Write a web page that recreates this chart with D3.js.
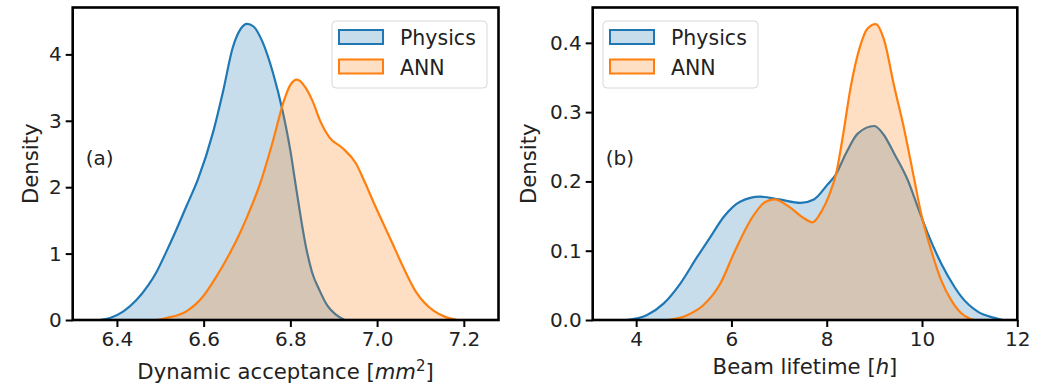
<!DOCTYPE html>
<html>
<head>
<meta charset="utf-8">
<script src="https://cdn.jsdelivr.net/npm/d3@7"></script>
<style>
  body { margin: 0; background: #fff; }
  text { font-family: "DejaVu Sans", sans-serif; fill: #222; }
</style>
</head>
<body>
<div id="visualisation"></div>
<script>
// KDE curves: [x, density]
var physicsA = [[6.36,0],[6.384,0.03],[6.415,0.13],[6.445,0.3],[6.472,0.52],[6.491,0.72],[6.514,1.03],[6.537,1.36],[6.56,1.71],[6.587,2.12],[6.621,2.81],[6.645,3.45],[6.667,4.1],[6.685,4.38],[6.70,4.46],[6.715,4.42],[6.735,4.2],[6.76,3.72],[6.782,3.15],[6.8,2.55],[6.813,2.0],[6.836,1.1],[6.85,0.72],[6.867,0.45],[6.885,0.22],[6.905,0.08],[6.925,0]];
var annA = [[6.49,0],[6.514,0.03],[6.56,0.13],[6.598,0.35],[6.629,0.65],[6.66,1.0],[6.683,1.3],[6.7,1.55],[6.73,2.05],[6.76,2.7],[6.785,3.3],[6.8,3.54],[6.815,3.62],[6.835,3.5],[6.851,3.3],[6.87,2.98],[6.89,2.75],[6.92,2.59],[6.951,2.36],[6.97,2.1],[6.99,1.8],[7.035,1.16],[7.06,0.8],[7.09,0.42],[7.13,0.14],[7.16,0.04],[7.185,0]];
var physicsB = [[3.8,0],[4.22,0.007],[4.58,0.024],[4.93,0.053],[5.28,0.091],[5.56,0.12],[5.84,0.149],[6.19,0.171],[6.6,0.178],[7.0,0.174],[7.45,0.169],[7.73,0.174],[8.01,0.195],[8.19,0.21],[8.4,0.24],[8.65,0.269],[9.0,0.28],[9.2,0.267],[9.417,0.24],[9.7,0.202],[9.91,0.163],[10.12,0.125],[10.4,0.082],[10.68,0.048],[10.82,0.034],[11.17,0.012],[11.52,0.003],[11.7,0]];
var annB = [[4.65,0],[5.07,0.007],[5.42,0.022],[5.77,0.053],[6.05,0.096],[6.4,0.144],[6.7,0.17],[6.9,0.174],[7.2,0.164],[7.5,0.148],[7.7,0.141],[7.9,0.158],[8.05,0.18],[8.2,0.212],[8.35,0.27],[8.5,0.335],[8.7,0.395],[8.85,0.42],[9.03,0.427],[9.2,0.405],[9.417,0.337],[9.63,0.274],[9.84,0.202],[9.98,0.154],[10.19,0.101],[10.4,0.058],[10.61,0.029],[10.82,0.01],[11.0,0.002],[11.1,0]];

var seriesNames = ["Physics", "ANN"];
var colors = ["#1f77b4", "#ff7f0e"];

var ticksA = [6.4, 6.6, 6.8, 7.0, 7.2];
var yTicksA = [0, 1, 2, 3, 4];
var ticksB = [4, 6, 8, 10, 12];
var yTicksB = [0.0, 0.1, 0.2, 0.3, 0.4];

var width = 1041, height = 387;

var svg = d3.select("#visualisation")
    .append("svg")
    .attr("width", width)
    .attr("height", height);

var panels = [
  {left: 72.7, right: 498.5, xDomain: [6.298, 7.28], yDomain: [0, 4.706], xTicks: ticksA, yTicks: yTicksA,
   xFmt: d3.format(".1f"), yFmt: d3.format("d"), series: [physicsA, annA], tag: "(a)",
   legendX: 332, labelY: 379, densityX: 37.5, label: "a"},
  {left: 592.7, right: 1017.3, xDomain: [3.088, 12.0], yDomain: [0, 0.451], xTicks: ticksB, yTicks: yTicksB,
   xFmt: d3.format("d"), yFmt: d3.format(".1f"), series: [physicsB, annB], tag: "(b)",
   legendX: 603, labelY: 374, densityX: 535.5, label: "b"}
];
var plotTop = 7.5, plotBottom = 320;

panels.forEach(p => {
  var g = svg.append("g");
  var xScale = d3.scaleLinear().domain(p.xDomain).range([p.left, p.right]);
  var yScale = d3.scaleLinear().domain(p.yDomain).range([plotBottom, plotTop]);

  var area = d3.area().curve(d3.curveMonotoneX)
      .x(d => xScale(d[0])).y0(yScale(0)).y1(d => yScale(d[1]));
  var line = d3.line().curve(d3.curveMonotoneX)
      .x(d => xScale(d[0])).y(d => yScale(d[1]));

  p.series.forEach((s, i) => {
    g.append("path").attr("d", area(s))
      .attr("fill", colors[i]).attr("fill-opacity", 0.25);
    g.append("path").attr("d", line(s))
      .attr("fill", "none").attr("stroke", colors[i]).attr("stroke-width", 2.2);
  });

  // axes
  var xAxis = g.append("g").attr("transform", `translate(0,${plotBottom})`)
      .call(d3.axisBottom(xScale).tickValues(p.xTicks).tickFormat(p.xFmt).tickSize(7).tickPadding(5).tickSizeOuter(0));
  var yAxis = g.append("g").attr("transform", `translate(${p.left},0)`)
      .call(d3.axisLeft(yScale).tickValues(p.yTicks).tickFormat(p.yFmt).tickSize(7).tickPadding(4).tickSizeOuter(0));
  [xAxis, yAxis].forEach(a => {
    a.select(".domain").remove();
    a.selectAll(".tick line").attr("stroke", "#000").attr("stroke-width", 2);
    a.selectAll(".tick text").attr("font-size", 20).attr("font-family", "DejaVu Sans").style("fill", "#222");
  });

  // frame
  g.append("rect")
    .attr("x", p.left).attr("y", plotTop)
    .attr("width", p.right - p.left).attr("height", plotBottom - plotTop)
    .attr("fill", "none").attr("stroke", "#000").attr("stroke-width", 2.6);

  // axis labels
  g.append("text")
    .attr("transform", `translate(${p.densityX},${(plotTop + plotBottom) / 2}) rotate(-90)`)
    .attr("text-anchor", "middle").attr("font-size", 21.2)
    .text("Density");

  var xl = g.append("text")
    .attr("x", (p.left + p.right) / 2).attr("y", p.labelY)
    .attr("text-anchor", "middle").attr("font-size", 21.2);
  if (p.label === "a") {
    xl.append("tspan").text("Dynamic acceptance [");
    xl.append("tspan").attr("font-style", "italic").text("mm");
    xl.append("tspan").attr("font-size", 15).attr("dy", -8).text("2");
    xl.append("tspan").attr("dy", 8).text("]");
  } else {
    xl.append("tspan").text("Beam lifetime [");
    xl.append("tspan").attr("font-style", "italic").text("h");
    xl.append("tspan").text("]");
  }

  g.append("text")
    .attr("x", p.left + 13).attr("y", 165)
    .attr("font-size", 20)
    .text(p.tag);

  // legend
  var lg = g.append("g").attr("transform", `translate(${p.legendX},21)`);
  lg.append("rect").attr("width", 155).attr("height", 67).attr("rx", 4)
    .attr("fill", "#fff").attr("fill-opacity", 0.8)
    .attr("stroke", "#d8d8d8").attr("stroke-width", 1);
  seriesNames.forEach((n, i) => {
    lg.append("rect")
      .attr("x", 7).attr("y", 9 + i * 29.5).attr("width", 44).attr("height", 14)
      .attr("fill", colors[i]).attr("fill-opacity", 0.25)
      .attr("stroke", colors[i]).attr("stroke-width", 2);
    lg.append("text")
      .attr("x", 68).attr("y", 24 + i * 29.5)
      .attr("font-size", 20.5)
      .text(n);
  });
});
</script>
</body>
</html>
